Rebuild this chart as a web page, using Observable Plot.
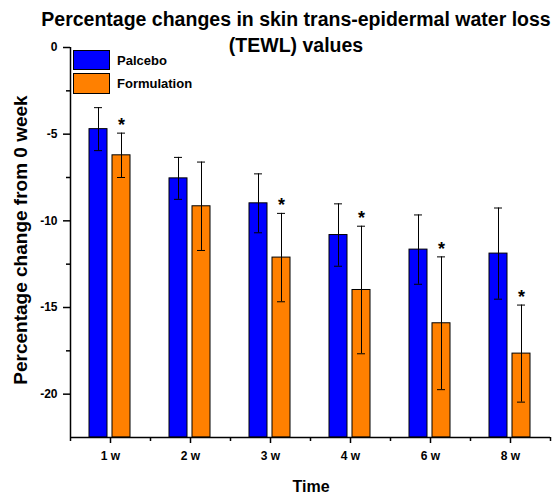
<!DOCTYPE html>
<html><head><meta charset="utf-8">
<script src="https://cdn.jsdelivr.net/npm/d3@7"></script>
<script src="https://cdn.jsdelivr.net/npm/@observablehq/plot@0.6"></script>
<style>
body{margin:0;background:#fff;font-family:"Liberation Sans",Arial,sans-serif;}
#wrap{position:relative;width:558px;height:495px;}
.ov{position:absolute;font-weight:bold;color:#000;white-space:nowrap;}
#title{left:0;width:592px;top:6px;text-align:center;font-size:19.5px;line-height:26px;}
#ylab{left:21px;top:240px;font-size:19px;transform:translate(-50%,-50%) rotate(-90deg);}
#xlab{left:311px;top:478px;font-size:16px;transform:translateX(-50%);}
.lg{position:absolute;left:73px;width:37px;border:1px solid #000;box-sizing:border-box;}
.lt{position:absolute;left:117px;font-size:13px;font-weight:bold;}
</style></head>
<body><div id="wrap"></div>
<script>
const categories = ["1 w","2 w","3 w","4 w","6 w","8 w"];
const seriesNames = ["Palcebo","Formulation"];
const placebo = [-4.71,-7.55,-8.99,-10.82,-11.66,-11.89];
const placeboErr = [1.24,1.21,1.70,1.80,2.00,2.63];
const formulation = [-6.22,-9.16,-12.12,-13.99,-15.91,-17.66];
const formulationErr = [1.28,2.55,2.55,3.68,3.83,2.80];
const significant = [true,false,true,true,true,true];
const yDomain = [-22.5,0];
const yTicks = [0,-5,-10,-15,-20];
const yMinor = [-2.5,-7.5,-12.5,-17.5];
const colors = ["#0000FF","#FF8000"];

const rowsP = categories.map((c,i)=>({cat:c,v:placebo[i],e:placeboErr[i]}));
const rowsF = categories.map((c,i)=>({cat:c,v:formulation[i],e:formulationErr[i],sig:significant[i]}));
const base = yDomain[0];

const plot = Plot.plot({
  width:558, height:495,
  marginLeft:70, marginRight:8, marginTop:47, marginBottom:58,
  style:{fontFamily:"'Liberation Sans',Arial,sans-serif",fontSize:"12px",fontWeight:"bold",color:"#000",background:"#fff"},
  x:{domain:categories, padding:0, label:null},
  y:{domain:yDomain, label:null},
  marks:[
    Plot.barY(rowsP,{x:"cat",y1:base,y2:"v",fill:colors[0],stroke:"#000",strokeWidth:1,insetLeft:19,insetRight:43}),
    Plot.barY(rowsF,{x:"cat",y1:base,y2:"v",fill:colors[1],stroke:"#000",strokeWidth:1,insetLeft:42,insetRight:20}),
    Plot.ruleX(rowsP,{x:"cat",y1:d=>d.v-d.e,y2:d=>d.v+d.e,dx:-12,stroke:"#000"}),
    Plot.tickY(rowsP,{x:"cat",y:d=>d.v-d.e,insetLeft:24,insetRight:48,stroke:"#000"}),
    Plot.tickY(rowsP,{x:"cat",y:d=>d.v+d.e,insetLeft:24,insetRight:48,stroke:"#000"}),
    Plot.ruleX(rowsF,{x:"cat",y1:d=>d.v-d.e,y2:d=>d.v+d.e,dx:11,stroke:"#000"}),
    Plot.tickY(rowsF,{x:"cat",y:d=>d.v-d.e,insetLeft:47,insetRight:25,stroke:"#000"}),
    Plot.tickY(rowsF,{x:"cat",y:d=>d.v+d.e,insetLeft:47,insetRight:25,stroke:"#000"}),
    Plot.text(rowsF.filter(d=>d.sig),{x:"cat",y:d=>d.v+d.e,text:()=>"*",dx:11,dy:-8,fontSize:18,fontWeight:"bold",fill:"#000"}),
    Plot.ruleY([base],{stroke:"#000",strokeWidth:1.5}),
    Plot.ruleX([categories[0]],{y1:yDomain[1],y2:base,dx:-40,stroke:"#000",strokeWidth:1.5}),
    Plot.axisY({ticks:yTicks,tickSize:7,tickPadding:6,tickFormat:d=>d===0?"0":String(d),strokeWidth:1.5,stroke:"#000"}),
    Plot.axisY({ticks:yMinor,tickSize:4,text:null,strokeWidth:1.5,stroke:"#000"}),
    Plot.axisX({tickSize:6,tickPadding:8,strokeWidth:1.5,stroke:"#000"}),
    Plot.axisX({tickSize:4,text:null,dx:-40,strokeWidth:1.5,stroke:"#000"}),
    Plot.axisX({ticks:[categories[categories.length-1]],tickSize:4,text:null,dx:40,strokeWidth:1.5,stroke:"#000"})
  ]
});
const wrap = document.getElementById("wrap");
wrap.appendChild(plot);
function ov(id,cls,text){const d=document.createElement("div");if(id)d.id=id;d.className=cls;d.textContent=text;wrap.appendChild(d);return d;}
ov("title","ov","").innerHTML="Percentage changes in skin trans-epidermal water loss<br>(TEWL) values";
ov("ylab","ov","Percentage change from 0 week");
ov("xlab","ov","Time");
const b1=ov(null,"lg","");b1.style.top="50px";b1.style.height="20px";b1.style.background=colors[0];
const b2=ov(null,"lg","");b2.style.top="73px";b2.style.height="21px";b2.style.background=colors[1];
const t1=ov(null,"lt",seriesNames[0]);t1.style.top="53px";
const t2=ov(null,"lt",seriesNames[1]);t2.style.top="76px";
</script></body></html>
